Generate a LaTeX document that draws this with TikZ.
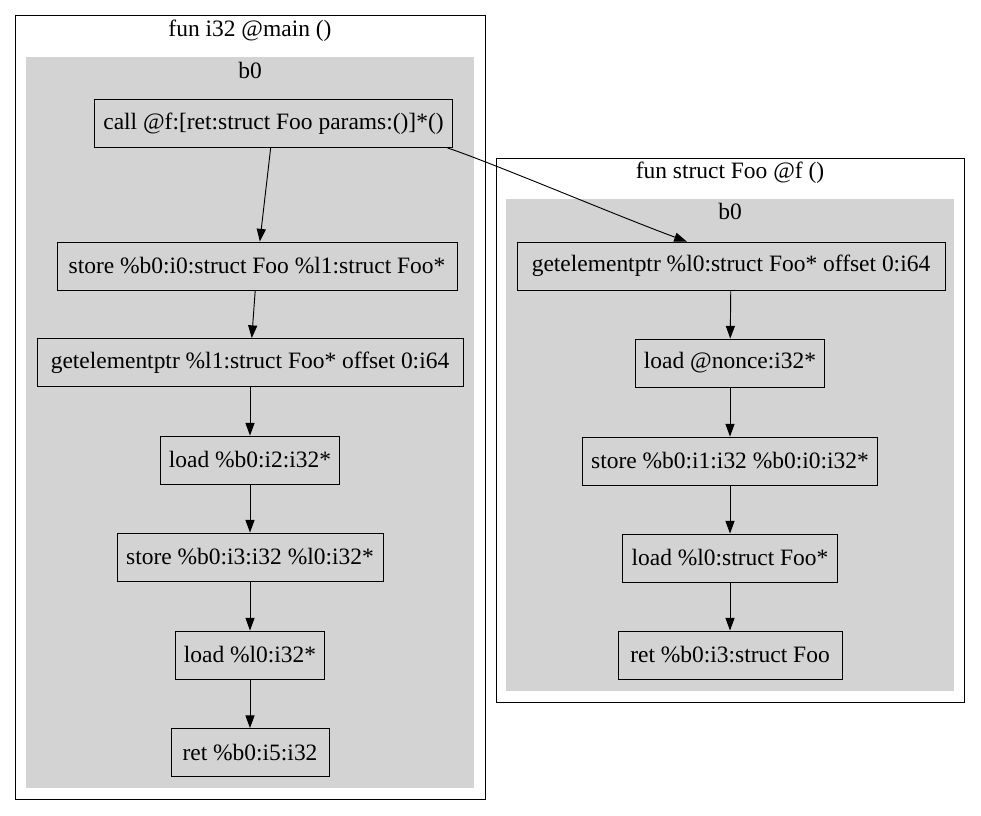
\documentclass[tikz,border=0pt]{standalone}
\usepackage{fontspec}
\setmainfont{Liberation Serif}
\usepackage{tikz}
\usetikzlibrary{positioning,arrows.meta}
\definecolor{clustergray}{HTML}{D3D3D3}

\begin{document}
\begin{tikzpicture}[x=0.75pt,y=-0.75pt,->,>={Triangle[length=9.5pt,width=6.8pt]},
  line width=0.7pt,font=\fontsize{17.6}{20}\selectfont,
  ins node/.style={rectangle,draw,fill=clustergray,minimum height=36pt,inner xsep=6pt},
  cluster label/.style={inner sep=0pt,anchor=base}]
  \useasboundingbox (0,0) rectangle (981,815);

  % clusters
  \draw[-] (15,15) rectangle (485,799);
  \fill[clustergray] (26,57) rectangle (474,788);
  \node[cluster label] (mainlbl) at (250,36) {fun i32 @main ()};
  \node[cluster label] (mainb0) at (250,78) {b0};

  \draw[-] (496,158) rectangle (964,702);
  \fill[clustergray] (506,199) rectangle (954,691);
  \node[cluster label] (flbl) at (730,178) {fun struct Foo @f ()};
  \node[cluster label] (fb0) at (730,219) {b0};

  % main
  \node[ins node,minimum width=269pt] (call) at (273.5,123.5) {call @f:[ret:struct Foo params:()]*()};
  \node[ins node,minimum width=300pt] (st0) at (257,266) {store \%b0:i0:struct Foo \%l1:struct Foo*};
  \node[ins node,minimum width=319.5pt] (gep1) at (250,362.5) {getelementptr \%l1:struct Foo* offset 0:i64};
  \node[ins node,minimum width=133.5pt] (ld2) at (250,460) {load \%b0:i2:i32*};
  \node[ins node,minimum width=199.5pt] (st3) at (250,557) {store \%b0:i3:i32 \%l0:i32*};
  \node[ins node,minimum width=111pt] (ld4) at (250,655) {load \%l0:i32*};
  \node[ins node,minimum width=118.5pt] (ret5) at (250,752.5) {ret \%b0:i5:i32};

  % f
  \node[ins node,minimum width=321pt] (gep0) at (731,266) {getelementptr \%l0:struct Foo* offset 0:i64};
  \node[ins node,minimum width=141pt] (ldn) at (730,363) {load @nonce:i32*};
  \node[ins node,minimum width=221pt] (st1) at (730,461) {store \%b0:i1:i32 \%b0:i0:i32*};
  \node[ins node,minimum width=161pt] (ldf) at (730,558) {load \%l0:struct Foo*};
  \node[ins node,minimum width=168pt] (ret3) at (730,655) {ret \%b0:i3:struct Foo};

  \path
    (call) edge (st0)
    (st0) edge (gep1)
    (gep1) edge (ld2)
    (ld2) edge (st3)
    (st3) edge (ld4)
    (ld4) edge (ret5)
    (gep0) edge (ldn)
    (ldn) edge (st1)
    (st1) edge (ldf)
    (ldf) edge (ret3);
  \draw (call.-8) .. controls (490,162) and (620,217) .. (gep0.151);
\end{tikzpicture}
\end{document}
